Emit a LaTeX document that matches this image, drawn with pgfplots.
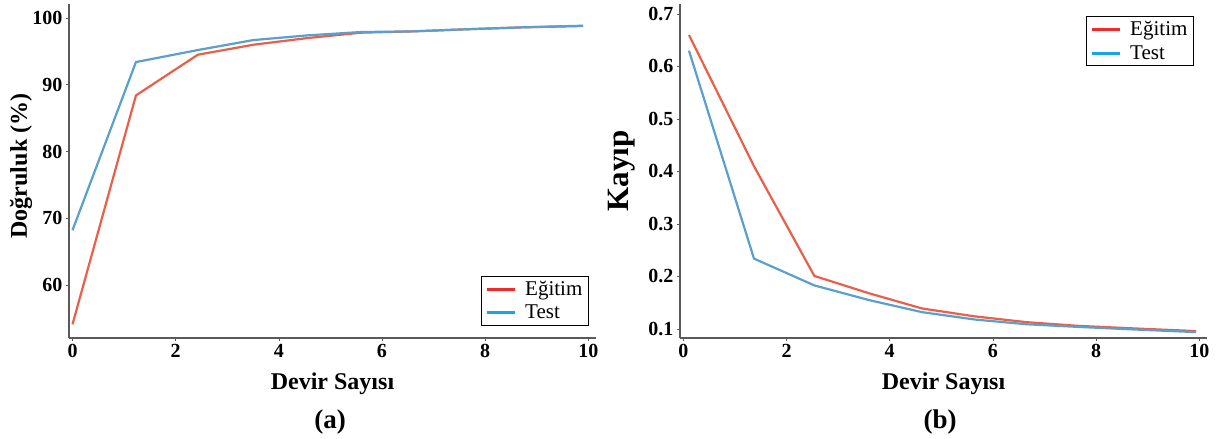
\documentclass[border=0pt]{standalone}
\usepackage{fontspec}
\setmainfont{Liberation Serif}
\usepackage{pgfplots}
\pgfplotsset{compat=1.18}

\definecolor{trainline}{HTML}{E8604A}
\definecolor{testline}{HTML}{5A9FCD}
\definecolor{trainleg}{HTML}{F02A2A}
\definecolor{testleg}{HTML}{18A4E6}
\definecolor{axisgray}{HTML}{5A5A5A}

\pgfplotsset{
  panel/.style={
    scale only axis,
    width=527pt, height=334pt,
    axis x line*=bottom, axis y line*=left,
    axis line style={-, axisgray, line width=1.8pt},
    tick align=outside,
    major tick length=3pt,
    every tick/.style={axisgray, line width=0.6pt},
    /pgf/number format/assume math mode=true,
    ticklabel style={font=\fontsize{20}{20}\selectfont\bfseries},
    xtick={0,2,...,10},
    xlabel={Devir Sayısı},
    xlabel style={font=\fontsize{24}{24}\selectfont\bfseries,
      at={(axis description cs:0.5,0)}, anchor=center, yshift=-46pt},
    legend style={draw=black, line width=1.2pt, fill=white,
      font=\fontsize{21}{22}\selectfont, inner xsep=4pt, inner ysep=3pt,
      row sep=4pt},
    legend cell align=left,
    legend image code/.code={
      \draw[#1, line width=3pt] (0pt,0pt) -- (28pt,0pt);
      \path[draw=none] (-2pt,0pt) -- (36pt,0pt);},
  },
}

\pgfplotstableread{
x     train  test
0.00  54.1   68.2
1.23  88.4   93.4
2.43  94.5   95.2
3.51  96.0   96.7
4.56  97.0   97.4
5.59  97.8   97.9
6.60  98.0   98.0
7.59  98.3   98.3
8.71  98.6   98.6
9.90  98.8   98.85
}\accdata

\pgfplotstableread{
x     train  test
0.11  0.660  0.630
1.37  0.410  0.234
2.54  0.201  0.183
3.60  0.168  0.155
4.63  0.139  0.132
5.65  0.124  0.118
6.65  0.113  0.109
7.64  0.106  0.104
8.75  0.101  0.099
9.94  0.096  0.094
}\lossdata

\begin{document}
\begin{tikzpicture}
\useasboundingbox (0,0) rectangle (1226pt,-439pt);

\begin{axis}[panel,
  at={(69pt,-338pt)}, anchor=south west,
  xmin=-0.068, xmax=10.15,
  ymin=52.05, ymax=102.1,
  ytick={60,70,80,90,100},
  ylabel={Doğruluk (\%)},
  ylabel style={font=\fontsize{24}{24}\selectfont\bfseries,
    at={(axis description cs:-0.091,0.515)}, anchor=center},
  legend style={at={(1,0)}, anchor=south east, xshift=-7pt, yshift=12pt},
]
\addplot[trainline, line width=2.2pt, forget plot] table[x=x, y=train] {\accdata};
\addplot[testline, line width=2.2pt, forget plot] table[x=x, y=test] {\accdata};
\addlegendimage{trainleg}
\addlegendentry{Eğitim}
\addlegendimage{testleg}
\addlegendentry{Test}
\end{axis}

\begin{axis}[panel,
  at={(680pt,-338pt)}, anchor=south west,
  xmin=-0.064, xmax=10.15,
  ymin=0.0828, ymax=0.719,
  ytick={0.1,0.2,...,0.7},
  yticklabel style={/pgf/number format/fixed, /pgf/number format/precision=1,
    /pgf/number format/fixed zerofill},
  ylabel={Kayıp},
  ylabel style={font=\fontsize{31}{31}\selectfont\bfseries,
    at={(axis description cs:-0.11,0.5)}, anchor=center},
  legend style={at={(1,1)}, anchor=north east, xshift=-13pt, yshift=-12pt},
]
\addplot[trainline, line width=2.2pt, forget plot] table[x=x, y=train] {\lossdata};
\addplot[testline, line width=2.2pt, forget plot] table[x=x, y=test] {\lossdata};
\addlegendimage{trainleg}
\addlegendentry{Eğitim}
\addlegendimage{testleg}
\addlegendentry{Test}
\end{axis}

\node[font=\fontsize{27}{27}\selectfont\bfseries] at (330pt,-422pt) {(a)};
\node[font=\fontsize{27}{27}\selectfont\bfseries] at (940pt,-422pt) {(b)};
\end{tikzpicture}
\end{document}
